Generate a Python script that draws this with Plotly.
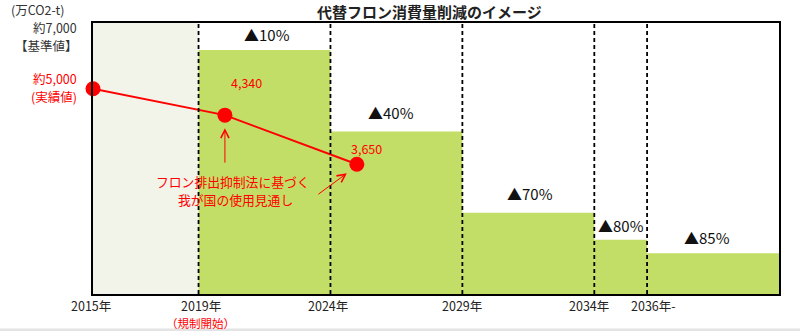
import plotly.graph_objects as go

# ---- data ----
base_value = 7000                      # 約7,000 【基準値】
period_start = [2019, 2024, 2029, 2034, 2036]
period_end = [2024, 2029, 2034, 2036, 2041]
reduction_pct = [10, 40, 70, 80, 85]
reduction_labels = ["▲10%", "▲40%", "▲70%", "▲80%", "▲85%"]

pre_start, pre_end = 2015, 2019        # pre-regulation period

line_years = [2015, 2020, 2025]
line_values = [5300, 4620, 3350]       # positions as drawn (schematic)
line_labels = ["", "4,340", "3,650"]

tick_years = [2015, 2019, 2024, 2029, 2034, 2036]
tick_labels = ["2015年", "2019年", "2024年", "2029年", "2034年", "2036年-"]
tick_sublabels = ["", "（規制開始）", "", "", "", ""]

FONT = "Noto Sans CJK JP"
RED = "#ff0000"
GREEN = "#c3de66"
PALE = "#f2f4ea"

# plot area in pixels (for placing free text)
L, T, R, B = 93, 23, 779, 294
W, H = R - L, B - T


def px(xp):
    return (xp - L) / W


def py(yp):
    return (B - yp) / H


bar_vals = [base_value * (100 - p) / 100 for p in reduction_pct]
bar_mid = [(s + e) / 2 for s, e in zip(period_start, period_end)]
bar_w = [e - s for s, e in zip(period_start, period_end)]

fig = go.Figure()
fig.add_trace(go.Bar(x=[(pre_start + pre_end) / 2], y=[base_value], width=[pre_end - pre_start],
                     marker=dict(color=PALE, line=dict(width=0)), hoverinfo="skip"))
fig.add_trace(go.Bar(x=bar_mid, y=bar_vals, width=bar_w,
                     marker=dict(color=GREEN, line=dict(width=0))))
fig.add_trace(go.Scatter(x=line_years, y=line_values, mode="lines+markers",
                         line=dict(color=RED, width=2),
                         marker=dict(color=RED, size=15), cliponaxis=False))

shapes = []
for yr in period_start:
    shapes.append(dict(type="line", xref="x", yref="paper", x0=yr, x1=yr, y0=0, y1=1,
                       line=dict(color="black", width=1.8, dash="4px,3px"), layer="above"))
shapes.append(dict(type="rect", xref="paper", yref="paper", x0=-0.2, x1=1.1,
                   y0=py(328.5), y1=py(332), fillcolor="#e4e4e4", line=dict(width=0)))

ann = []


def free_text(text, xp, yp, size, color, xanchor="center", bold=False):
    if bold:
        text = f"<b>{text}</b>"
    ann.append(dict(text=text, xref="paper", yref="paper", x=px(xp), y=py(yp),
                    showarrow=False, xanchor=xanchor, yanchor="middle",
                    font=dict(size=size, color=color)))


# title
free_text("代替フロン消費量削減のイメージ", 429, 11.5, 15, "#222", bold=True)
# left labels
free_text("(万CO2-t)", 9, 9, 12.5, "#333", xanchor="left")
free_text("約7,000", 79, 27.3, 12.5, "#333", xanchor="right")
free_text("【基準値】", 80, 46, 12.5, "#333", xanchor="right")
free_text("約5,000", 79, 78.5, 12.5, RED, xanchor="right")
free_text("(実績値)", 79, 96.5, 12.5, RED, xanchor="right")
# note text
free_text("フロン排出抑制法に基づく", 233, 181.5, 12.8, RED)
free_text("我が国の使用見通し", 235, 199.8, 12.8, RED)

# reduction labels
lab_xshift = [2, -5, 2, 0, -6]
lab_yshift = [16, 19, 19, 14, 16]
for xm, v, t, xs, ys in zip(bar_mid, bar_vals, reduction_labels, lab_xshift, lab_yshift):
    ann.append(dict(text=t, x=xm, y=v, xshift=xs, yshift=ys, showarrow=False,
                    xanchor="center", yanchor="middle", font=dict(size=15, color="#111")))
# point labels
pt_shift = [(0, 0), (22, 33), (10, 16)]
for xv, yv, t, (xs, ys) in zip(line_years, line_values, line_labels, pt_shift):
    if t:
        ann.append(dict(text=t, x=xv, y=yv, xshift=xs, yshift=ys, showarrow=False,
                        xanchor="center", yanchor="middle", font=dict(size=12.5, color=RED)))
# arrows
ann.append(dict(x=line_years[1], y=line_values[1], yshift=-13, ax=0, ay=36,
                showarrow=True, arrowhead=5, arrowsize=1.6, arrowwidth=1, arrowcolor=RED, text=""))
ann.append(dict(x=line_years[2], y=line_values[2], xshift=-10, yshift=-9, ax=-30, ay=22,
                showarrow=True, arrowhead=5, arrowsize=1.6, arrowwidth=1, arrowcolor=RED, text=""))
# x tick labels
tick_xshift = [-2, 2, -2, 0, -5, 6]
for yr, t, sub, xs in zip(tick_years, tick_labels, tick_sublabels, tick_xshift):
    ann.append(dict(text=t, x=yr, xref="x", yref="paper", y=py(305.5), xshift=xs,
                    showarrow=False, xanchor="center", yanchor="middle",
                    font=dict(size=12.5, color="#222")))
    if sub:
        ann.append(dict(text=sub, x=yr, xref="x", yref="paper", y=py(322.8), xshift=xs,
                        showarrow=False, xanchor="center", yanchor="middle",
                        font=dict(size=11.5, color=RED)))

fig.update_layout(
    width=800, height=331, margin=dict(l=L, r=800 - R, t=T, b=331 - B),
    paper_bgcolor="white", plot_bgcolor="white", showlegend=False,
    font=dict(family=FONT), barmode="overlay",
    shapes=shapes, annotations=ann,
    xaxis=dict(range=[2015, 2041], showgrid=False, zeroline=False, showticklabels=False,
               ticks="", showline=True, linecolor="black", linewidth=2, mirror=True),
    yaxis=dict(range=[0, base_value], showgrid=False, zeroline=False, showticklabels=False,
               ticks="", showline=True, linecolor="black", linewidth=2, mirror=True),
)
fig.write_html("out.html")
